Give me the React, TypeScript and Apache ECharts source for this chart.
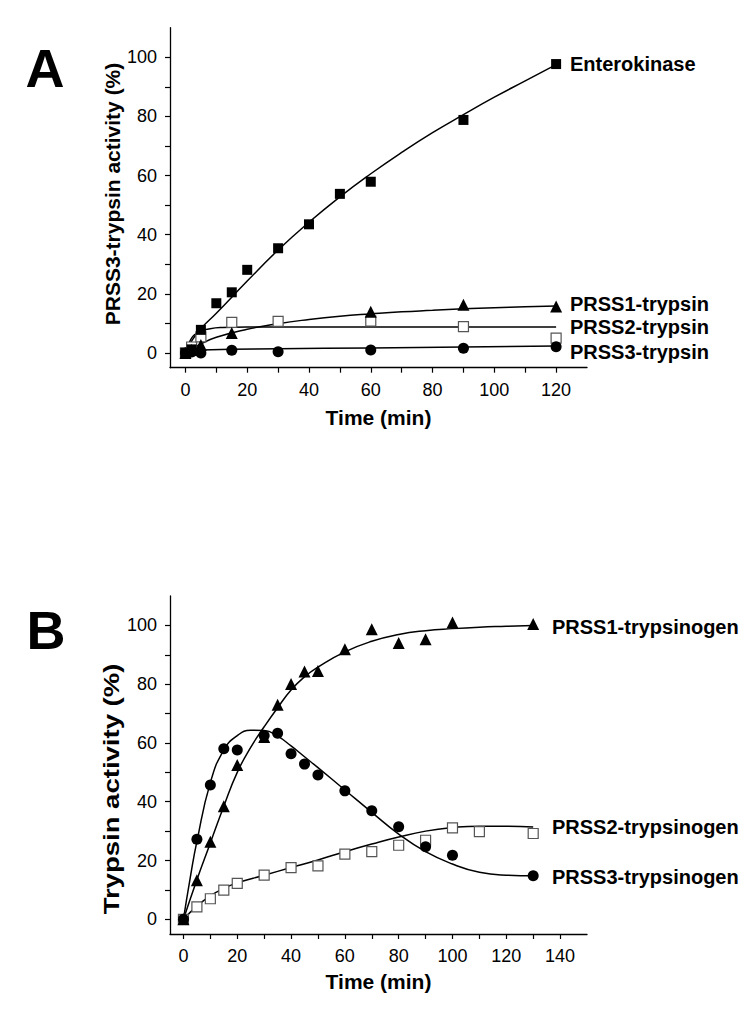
import React, { useEffect, useRef } from "react";
import * as echarts from "echarts";

// ---------- Panel A data (time in min, activity in %) ----------
const entPointsA: [number, number][] = [[0, 0], [2, 1.2], [5, 7.8], [10, 16.8], [15, 20.5], [20, 28.1], [30, 35.4], [40, 43.5], [50, 53.8], [60, 57.9], [90, 78.8], [120, 97.7]];
const entCurveA: [number, number][] = [[0, 0], [2, 4], [5, 8.2], [10, 13.4], [20, 24.3], [30, 34.8], [40, 44.2], [50, 52.8], [60, 60.6], [70, 67.8], [80, 74.5], [90, 80.6], [100, 86.5], [110, 92], [120, 97.5]];
const p1PointsA: [number, number][] = [[0, 0], [2, 1], [5, 2.7], [15, 6.7], [60, 13.9], [90, 16.3], [120, 15.7]];
const p1CurveA: [number, number][] = [[0, 0], [2, 1.2], [5, 3], [10, 5.3], [20, 8], [30, 9.9], [40, 11.3], [50, 12.4], [60, 13.2], [70, 13.9], [80, 14.4], [90, 14.9], [100, 15.3], [110, 15.6], [120, 15.9]];
const p2PointsA: [number, number][] = [[0, 0], [2, 2], [5, 5.4], [15, 10.3], [30, 10.7], [60, 10.8], [90, 8.9], [120, 5]];
const p2CurveA: [number, number][] = [[0, 0], [1, 3], [2, 5], [3, 6.2], [5, 7.4], [8, 8.2], [12, 8.6], [20, 8.8], [40, 8.8], [60, 8.8], [80, 8.8], [100, 8.8], [120, 8.8]];
const p3PointsA: [number, number][] = [[0, 0], [2, 0.3], [5, 0], [15, 0.9], [30, 0.4], [60, 1.0], [90, 1.6], [120, 2.1]];
const p3CurveA: [number, number][] = [[0, 0], [3, 0.8], [5, 1], [15, 1.2], [30, 1.4], [60, 1.7], [90, 2], [120, 2.3]];

// ---------- Panel B data ----------
const p1PointsB: [number, number][] = [[0, 0], [5, 13.3], [10, 26.4], [15, 38.5], [20, 52.5], [30, 62], [35, 73], [40, 80.1], [45, 84.3], [50, 84.5], [60, 91.9], [70, 98.7], [80, 94], [90, 95.3], [100, 101], [130, 100.5]];
const p1CurveB: [number, number][] = [[0, 0], [5, 13.5], [10, 26], [15, 38.5], [20, 50], [25, 58.5], [30, 65.5], [35, 72], [40, 78], [45, 82.5], [50, 85.8], [60, 91], [70, 94.6], [80, 96.9], [90, 98.2], [100, 98.9], [110, 99.4], [120, 99.7], [130, 100]];
const p2PointsB: [number, number][] = [[0, 0], [5, 4.2], [10, 7], [15, 9.9], [20, 12.2], [30, 15], [40, 17.6], [50, 18.2], [60, 22.2], [70, 23], [80, 25.2], [90, 26.9], [100, 31.1], [110, 29.8], [130, 29.2]];
const p2CurveB: [number, number][] = [[0, 0], [5, 4.5], [10, 8], [15, 10.5], [20, 12.4], [30, 15], [40, 17.6], [50, 20.2], [60, 23], [70, 25.6], [80, 28], [90, 30], [100, 31.2], [110, 31.7], [120, 31.7], [130, 31.4]];
const p3PointsB: [number, number][] = [[0, 0], [5, 27.2], [10, 45.7], [15, 58], [20, 57.6], [30, 62.5], [35, 63.3], [40, 56.3], [45, 52.8], [50, 49.1], [60, 43.7], [70, 36.9], [80, 31.5], [90, 24.7], [100, 21.8], [130, 14.8]];
const p3CurveB: [number, number][] = [[0, 0], [2.5, 14], [5, 26.5], [10, 46.5], [15, 57.6], [20, 62.5], [25, 64.3], [30, 64.2], [35, 62.3], [40, 59], [45, 55.3], [50, 51.6], [60, 44], [70, 36.4], [80, 29], [90, 23], [100, 18.8], [110, 16], [120, 15], [130, 14.8]];

// ---------- Axis ticks / labels ----------
const yLabels = [0, 20, 40, 60, 80, 100];
const yTicks = [0, 10, 20, 30, 40, 50, 60, 70, 80, 90, 100];
const xLabelsA = [0, 20, 40, 60, 80, 100, 120];
const xTicksA = [0, 10, 20, 30, 40, 50, 60, 70, 80, 90, 100, 110, 120];
const xLabelsB = [0, 20, 40, 60, 80, 100, 120, 140];
const xTicksB = [0, 10, 20, 30, 40, 50, 60, 70, 80, 90, 100, 110, 120, 130, 140];

const labelsA = ["Enterokinase", "PRSS1-trypsin", "PRSS2-trypsin", "PRSS3-trypsin"];
const labelsB = ["PRSS1-trypsinogen", "PRSS2-trypsinogen", "PRSS3-trypsinogen"];
const yTitleA = "PRSS3-trypsin activity (%)";
const yTitleB = "Trypsin activity (%)";
const xTitle = "Time (min)";

const FONT = "'Liberation Sans', Arial, Helvetica, sans-serif";

function xAxisCfg(gridIndex: number, max: number, labels: number[], ticks: number[], gap: number) {
  return {
    type: "value",
    gridIndex,
    min: -5,
    max,
    axisLine: { show: true, onZero: false, lineStyle: { color: "#000", width: 1.3 } },
    axisTick: { show: true, customValues: ticks, length: 5, lineStyle: { color: "#000", width: 1.2 } },
    axisLabel: { customValues: labels, margin: 13, fontSize: 18, color: "#000", fontFamily: FONT },
    splitLine: { show: false },
    name: xTitle,
    nameLocation: "middle",
    nameGap: gap,
    nameTextStyle: { fontSize: 21, fontWeight: "bold", color: "#000", fontFamily: FONT },
  };
}

function yAxisCfg(gridIndex: number) {
  return {
    type: "value",
    gridIndex,
    min: -5,
    max: 110,
    axisLine: { show: true, onZero: false, lineStyle: { color: "#000", width: 1.3 } },
    axisTick: { show: true, customValues: yTicks, length: 5, lineStyle: { color: "#000", width: 1.2 } },
    axisLabel: { customValues: yLabels, margin: 13, fontSize: 18, color: "#000", fontFamily: FONT },
    splitLine: { show: false },
  };
}

function curve(idx: number, data: [number, number][]) {
  return {
    type: "line",
    xAxisIndex: idx,
    yAxisIndex: idx,
    data,
    smooth: 0.5,
    symbol: "none",
    lineStyle: { color: "#000", width: 1.5 },
    z: 2,
  };
}

function points(idx: number, data: [number, number][], kind: "square" | "open" | "circle" | "triangle") {
  const symbol = kind === "circle" ? "circle" : kind === "triangle" ? "triangle" : "rect";
  const size = kind === "circle" ? 11 : kind === "triangle" ? 12 : 10;
  const itemStyle =
    kind === "open"
      ? { color: "#fff", borderColor: "#555", borderWidth: 1.2, opacity: 1 }
      : { color: "#000", borderWidth: 0, opacity: 1 };
  return {
    type: "scatter",
    xAxisIndex: idx,
    yAxisIndex: idx,
    data,
    symbol,
    symbolSize: size,
    itemStyle,
    z: 3,
  };
}

function txt(text: string, x: number, y: number, size: number, align = "left", rotation = 0, scaleX = 1) {
  return {
    type: "text",
    x,
    y,
    rotation,
    scaleX,
    style: {
      text,
      fontFamily: FONT,
      fontSize: size,
      fontWeight: "bold",
      fill: "#000",
      align,
      verticalAlign: "middle",
    },
  };
}

export default function App() {
  const ref = useRef<HTMLDivElement>(null);
  useEffect(() => {
    if (!ref.current) return;
    const chart = echarts.init(ref.current, null, { renderer: "svg" });
    chart.setOption({
      animation: false,
      backgroundColor: "#fff",
      grid: [
        { left: 170, top: 27.7, width: 417, height: 340, containLabel: false },
        { left: 170, top: 596, width: 417, height: 338, containLabel: false },
      ],
      xAxis: [xAxisCfg(0, 130, xLabelsA, xTicksA, 39), xAxisCfg(1, 150, xLabelsB, xTicksB, 37)],
      yAxis: [yAxisCfg(0), yAxisCfg(1)],
      series: [
        curve(0, entCurveA),
        curve(0, p1CurveA),
        curve(0, p2CurveA),
        curve(0, p3CurveA),
        points(0, p2PointsA, "open"),
        points(0, p3PointsA, "circle"),
        points(0, p1PointsA, "triangle"),
        points(0, entPointsA, "square"),
        curve(1, p1CurveB),
        curve(1, p2CurveB),
        curve(1, p3CurveB),
        points(1, p2PointsB, "open"),
        points(1, p1PointsB, "triangle"),
        points(1, p3PointsB, "circle"),
      ],
      graphic: [
        txt("A", 45, 68, 54, "center"),
        txt("B", 46, 630, 54, "center"),
        txt(yTitleA, 112, 194, 21, "center", Math.PI / 2),
        txt(yTitleB, 112, 789, 21.5, "center", Math.PI / 2, 1.28),
        txt(labelsA[0], 570, 64, 20),
        txt(labelsA[1], 570, 304, 20),
        txt(labelsA[2], 570, 327, 20),
        txt(labelsA[3], 570, 352, 20),
        txt(labelsB[0], 552, 627, 20),
        txt(labelsB[1], 552, 827, 20),
        txt(labelsB[2], 552, 877, 20),
      ],
    });
    return () => chart.dispose();
  }, []);
  return (
    <div
      ref={ref}
      style={{ position: "absolute", left: 0, top: 0, width: 750, height: 1013, background: "#fff" }}
    />
  );
}
